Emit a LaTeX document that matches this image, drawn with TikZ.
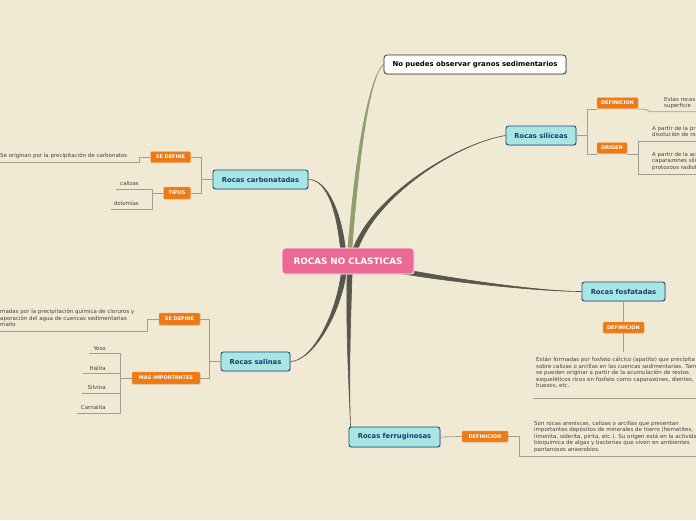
\documentclass[tikz,border=0pt]{standalone}
\usepackage{fontspec}
\setmainfont{DejaVu Sans}
\usetikzlibrary{shadows}

\pgfdeclarelayer{paperlayer}
\pgfdeclarelayer{branchlayer}
\pgfsetlayers{paperlayer,branchlayer,main}

\tikzset{
  root/.style={draw=white, line width=0.8pt, fill=rootfill, rounded corners=3pt,
    text=white, font=\fontsize{8.8}{10}\selectfont\bfseries,
    minimum width=132pt, minimum height=26pt, inner sep=0pt,
    drop shadow={shadow xshift=0.8pt, shadow yshift=-0.8pt, opacity=0.3}},
  plain/.style={draw=black!80, line width=0.8pt, fill=white!95!paper, rounded corners=3pt,
    font=\fontsize{6.9}{8}\selectfont\bfseries, minimum height=19pt, inner sep=0pt,
    drop shadow={shadow xshift=0.8pt, shadow yshift=-0.8pt, opacity=0.25}},
  rock/.style={draw=rockline, line width=0.9pt, fill=rockfill, rounded corners=2.5pt,
    text=rocktext, font=\fontsize{6.8}{8}\selectfont\bfseries, minimum height=19pt, inner sep=0pt,
    drop shadow={shadow xshift=0.8pt, shadow yshift=-0.8pt, opacity=0.25}},
  tag/.style={draw=tagline, line width=0.4pt, fill=tagfill, rounded corners=1pt,
    text=white, font=\fontsize{5}{6}\selectfont\bfseries, minimum height=11pt, inner sep=0pt,
    drop shadow={shadow xshift=0.5pt, shadow yshift=-0.5pt, opacity=0.2}},
  note/.style={text=notetext, font=\fontsize{5.5}{6.5}\selectfont, inner sep=0pt, align=left},
  item/.style={text=notetext, font=\fontsize{5.5}{6.5}\selectfont, inner xsep=0pt, inner ysep=3.2pt},
  link/.style={draw=linkline, line width=0.8pt},
  branch/.style={fill=branchdark, draw=branchdark, line width=0.6pt},
}

\begin{document}
\begin{tikzpicture}[x=1pt,y=-1pt]
\definecolor{paper}{HTML}{F0E9D3}
\definecolor{rootfill}{HTML}{EA6A93}
\definecolor{rockfill}{HTML}{A8E6E4}
\definecolor{rockline}{HTML}{23467E}
\definecolor{rocktext}{HTML}{1D3C73}
\definecolor{tagfill}{HTML}{EE7A15}
\definecolor{tagline}{HTML}{F5AE6E}
\definecolor{notetext}{HTML}{434343}
\definecolor{linkline}{HTML}{A39D8E}
\definecolor{branchdark}{HTML}{58574D}
\definecolor{branchleaf}{HTML}{8E9E6C}
\useasboundingbox (0,0) rectangle (696,520);
\begin{pgfonlayer}{paperlayer}
\fill[paper] (0,0) rectangle (696,520);
\end{pgfonlayer}
\clip (0,0) rectangle (696,520);

% central topic and main topics
\node[root] (root) at (348,261) {ROCAS NO CLASTICAS};
\node[plain, minimum width=182pt] (granos) at (475,64.5) {No puedes observar granos sedimentarios};
\node[rock, minimum width=70pt] (silic) at (541,135.5) {Rocas silíceas};
\node[rock, minimum width=95pt] (carbo) at (260.5,179.5) {Rocas carbonatadas};
\node[rock, minimum width=83pt] (fosfa) at (623.5,291.5) {Rocas fosfatadas};
\node[rock, minimum width=69pt] (salin) at (255.5,361.5) {Rocas salinas};
\node[rock, minimum width=91pt, minimum height=20pt] (ferru) at (394.5,437) {Rocas ferruginosas};

% tags
\node[tag, minimum width=41pt] (silDef) at (617.5,103) {DEFINICION};
\node[tag, minimum width=30pt] (silOri) at (612,148) {ORIGEN};
\node[tag, minimum width=40pt] (carDef) at (170.5,157) {SE DEFINE};
\node[tag, minimum width=27pt, minimum height=12pt] (carTip) at (177,193) {TIPOS};
\node[tag, minimum width=41pt] (fosDef) at (623.5,327.5) {DEFINICION};
\node[tag, minimum width=41pt, minimum height=12pt] (salDef) at (179.5,319) {SE DEFINE};
\node[tag, minimum width=68pt, minimum height=12pt] (salMas) at (166,378) {MAS IMPORTANTES};
\node[tag, minimum width=46pt] (ferDef) at (485,436.5) {DEFINICION};

% notes
\node[note, anchor=north west] (silDefTxt) at (664,97) {Estas rocas\\superficie};
\node[note, anchor=north west] (silOriTxtA) at (652,126) {A partir de la pr\\disolución de ro};
\node[note, anchor=north west] (silOriTxtB) at (652,152) {A partir de la ac\\caparazones síli\\protozoos radiol};
\node[note, anchor=west] (carDefTxt) at (0,156) {Se originan por la precipitación de carbonatos};
\node[item, anchor=south east] (carCaliza) at (139,189) {calizas};
\node[item, anchor=south east] (carDolomia) at (139,209) {dolomías};
\node[note, anchor=north west] (salDefTxt) at (0,309) {madas por la precipitación química de cloruros y\\aporación del agua de cuencas sedimentarias\\maño};
\node[item, anchor=south east] (salYeso) at (106,353.5) {Yeso};
\node[item, anchor=south east] (salHalita) at (106,373.5) {Halita};
\node[item, anchor=south east] (salSilvina) at (106,393) {Silvina};
\node[item, anchor=south east] (salCarnalita) at (106,413) {Carnalita};
\node[note, anchor=north west] (fosDefTxt) at (536,357) {Están formadas por fosfato cálcico (apatito) que precipita\\sobre calizas o arcillas en las cuencas sedimentarias. También\\se pueden originar a partir de la acumulación de restos\\esqueléticos ricos en fosfato como caparazones, dientes,\\huesos, etc.};
\node[note, anchor=north west] (ferDefTxt) at (534,421) {Son rocas areniscas, calizas o arcillas que presentan\\importantes depósitos de minerales de hierro (hematites,\\limonita, siderita, pirita, etc.). Su origen está en la actividad\\bioquímica de algas y bacterias que viven en ambientes\\pantanosos anaerobios.};

% thin links
\draw[link] (silic.east) -- ++(11,0) coordinate (silJ);
\draw[link] ([yshift=-0.5pt]silDef.south west) -| (silJ);
\draw[link] ([yshift=-0.5pt]silOri.south west) -| (silJ);
\draw[link] ([yshift=-0.5pt]silDef.south east) -- ++(7,0) -- ++(5,2.5) -- ++(60,0);
\draw[link] ([yshift=-0.5pt]silOri.south east) -- ++(11,0) coordinate (silOriJ);
\draw[link] (silOriJ) -- ++(0,-13) -- ++(70,0);
\draw[link] (silOriJ) -- ++(0,20) -- ++(70,0);

\draw[link] (carbo.west) -- ++(-11,0) coordinate (carJ);
\draw[link] (carDef.east) -| (carJ);
\draw[link] (carTip.east) -| (carJ);
\draw[link] (carDef.west) -- ++(-11,0) -- ++(0,5) -- ++(-150,0);
\draw[link] (carTip.west) -- ++(-11,0) coordinate (carTipJ);
\draw[link] ([xshift=-4pt]carCaliza.south west) -| (carTipJ);
\draw[link] ([xshift=-3pt]carDolomia.south west) -| (carTipJ);

\draw[link] (salin.west) -- ++(-11,0) coordinate (salJ);
\draw[link] (salDef.east) -| (salJ);
\draw[link] (salMas.east) -| (salJ);
\draw[link] (salDef.west) -- ++(-11,0) -- ++(0,12) -- ++(-160,0);
\draw[link] (salMas.west) -- ++(-11,0) coordinate (salMasJ);
\draw[link] ([xshift=-4pt]salYeso.south west) -| (salMasJ);
\draw[link] ([xshift=-7pt]salHalita.south west) -| (salMasJ);
\draw[link] ([xshift=-5pt]salSilvina.south west) -| (salMasJ);
\draw[link] ([xshift=-4pt]salCarnalita.south west) -| (salMasJ);

\draw[link] (fosfa.south) -- (fosDef.north);
\draw[link] (fosDef.south) -- ++(0,19);
\draw[link] ([shift={(-3,10)}]fosDefTxt.south west) -- ++(170,0);

\draw[link] (ferDef.east) -- ++(11,0) -- ++(0,19.5) -- ++(180,0);
\draw[link] (ferru.east) -- (ferDef.west);

% tapered main branches
\begin{pgfonlayer}{branchlayer}
\fill[branch, fill=branchleaf, draw=branchleaf] ([shift={(-1,0)}]root.center) .. controls +(8,-110) and +(-14,12) .. (granos.west)
  .. controls +(-14,12) and +(8,-110) .. ([shift={(3,0)}]root.center) -- cycle;
\fill[branch] ([shift={(1.5,0)}]root.center) .. controls +(12,-60) and +(-50,8) .. (silic.west)
  .. controls +(-50,8) and +(12,-60) .. ([shift={(6.5,0)}]root.center) -- cycle;
\fill[branch] ([shift={(-6.5,0)}]root.center) .. controls +(-3,-45) and +(20,0) .. (carbo.east)
  .. controls +(20,0) and +(-3,-45) .. ([shift={(-1.5,0)}]root.center) -- cycle;
\fill[branch] ([shift={(32,3.5)}]root.center) .. controls +(40,9) and +(-50,0) .. (fosfa.west)
  .. controls +(-50,0) and +(40,9) .. ([shift={(32,8.5)}]root.center) -- cycle;
\fill[branch] ([shift={(-5.5,0)}]root.center) .. controls +(-3,50) and +(22,0) .. (salin.east)
  .. controls +(22,0) and +(-3,50) .. ([shift={(-0.5,0)}]root.center) -- cycle;
\fill[branch] ([shift={(-0.5,0)}]root.center) .. controls +(-2,60) and +(-2,-50) .. ([xshift=2pt]ferru.north west)
  .. controls +(-2,-50) and +(-2,60) .. ([shift={(4.5,0)}]root.center) -- cycle;
\end{pgfonlayer}
\end{tikzpicture}
\end{document}
